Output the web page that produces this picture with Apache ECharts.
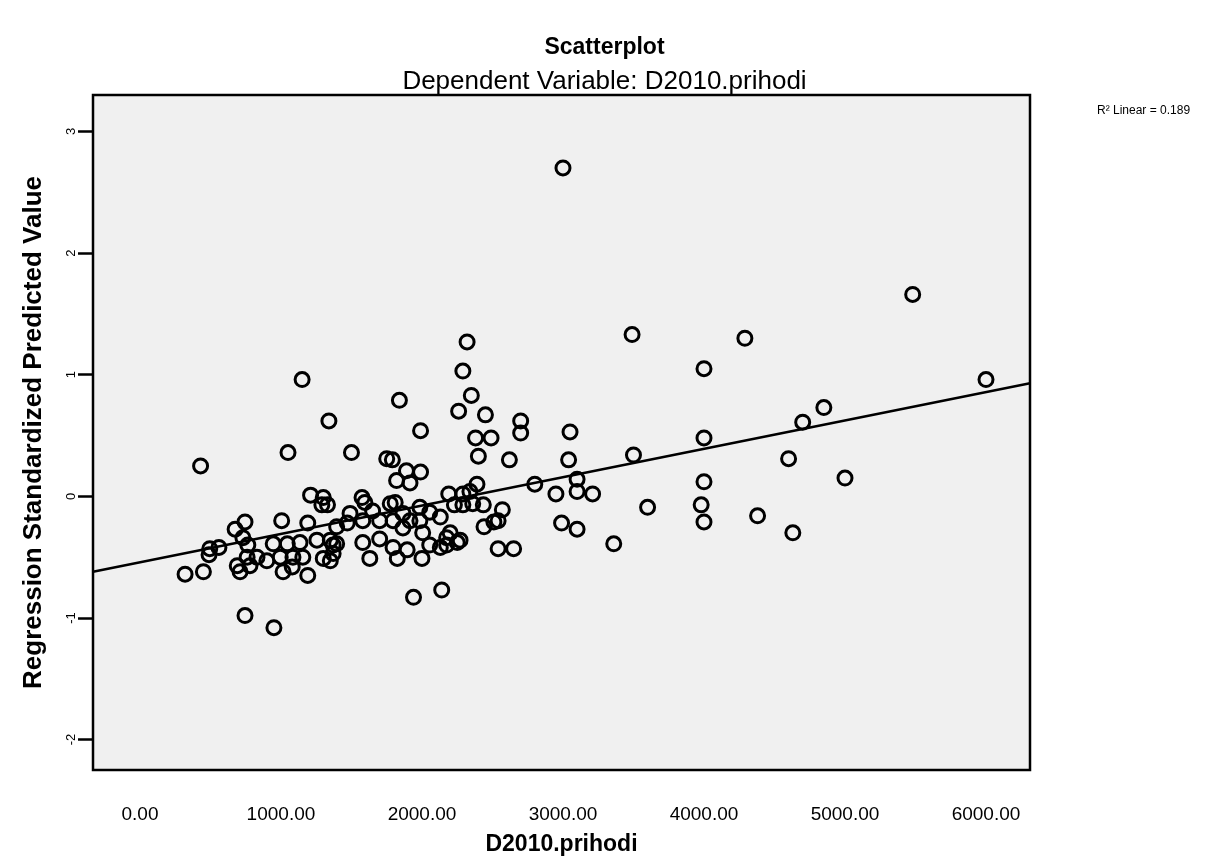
<!DOCTYPE html>
<html>
<head>
<meta charset="utf-8">
<title>Scatterplot</title>
<script src="https://cdn.jsdelivr.net/npm/echarts@6/dist/echarts.min.js"></script>
<style>
  html, body { margin: 0; padding: 0; background: #fff; }
  #main { width: 1209px; height: 857px; }
</style>
</head>
<body>
<div id="main"></div>
<script>
// D2010.prihodi (x) vs Regression Standardized Predicted Value (y)
var prihodi = [
  3000, 5480, 3490, 4290, 2320, 2290, 1150, 4000, 6000, 2350,
  1840, 1340, 2260, 2450, 1990, 2700, 2700, 3050, 2380, 2490,
  4000, 4850, 4700, 430, 1050, 1500, 2400, 3500, 1750, 1790,
  1890, 1990, 2620, 3040, 4600, 4000, 5000, 2800, 3100, 2390,
  1820, 2950, 3100, 3210, 2340, 2290, 2190, 3980, 3600, 4380,
  4000, 2990, 3100, 3360, 4630, 2540, 2650, 2440, 2510, 2570,
  2230, 2140, 1940, 745, 950, 320, 450, 490, 560,
  1210, 1300, 1330, 1290, 745, 675, 1005, 1190, 730, 495,
  765, 945, 1045, 1135, 1255, 1350, 1370, 760, 830, 900,
  995, 1085, 1155, 1300, 1350, 690, 710, 780, 1015, 1080,
  1190,
  1915, 1575, 1595, 1775, 1810, 1650, 1865, 1985, 2055, 2130,
  2360, 1490, 1395, 1470, 1580, 1700, 1795, 1915, 1985, 1865,
  2005, 2200, 2270, 1580, 1700, 1795, 1895, 1825, 2000, 2055,
  2130, 1630, 1395, 1370,
  2290, 2435, 2540, 2175, 2250, 2175
];
var predicted = [
  2.70, 1.66, 1.33, 1.30, 1.27, 1.03, 0.96, 1.05, 0.96, 0.83,
  0.79, 0.62, 0.70, 0.67, 0.54, 0.62, 0.52, 0.53, 0.48, 0.48,
  0.48, 0.73, 0.61, 0.25, 0.36, 0.36, 0.33, 0.34, 0.31, 0.30,
  0.21, 0.20, 0.30, 0.30, 0.31, 0.12, 0.15, 0.10, 0.14, 0.10,
  0.13, 0.02, 0.04, 0.02, 0.04, 0.02, 0.02, -0.07, -0.09, -0.16,
  -0.21, -0.22, -0.27, -0.39, -0.30, -0.43, -0.43, -0.25, -0.21, -0.11,
  -0.07, -0.77, -0.83, -0.98, -1.08, -0.64, -0.62, -0.48, -0.42,
  0.01, -0.01, -0.07, -0.07, -0.21, -0.27, -0.20, -0.22, -0.34, -0.43,
  -0.40, -0.39, -0.39, -0.38, -0.36, -0.36, -0.40, -0.50, -0.50, -0.53,
  -0.50, -0.50, -0.50, -0.51, -0.53, -0.57, -0.62, -0.57, -0.62, -0.58,
  -0.65,
  0.11, -0.01, -0.05, -0.06, -0.05, -0.12, -0.14, -0.09, -0.13, -0.17,
  -0.06, -0.14, -0.25, -0.22, -0.20, -0.20, -0.20, -0.20, -0.20, -0.26,
  -0.30, -0.30, -0.36, -0.38, -0.35, -0.42, -0.44, -0.51, -0.51, -0.40,
  -0.42, -0.51, -0.39, -0.47,
  -0.07, -0.07, -0.20, -0.34, -0.38, -0.40
];
// fit line endpoints (read at plot edges)
var fitX = [-333, 6312];
var fitY = [-0.62, 0.93];
var xTicks = [0, 1000, 2000, 3000, 4000, 5000, 6000];
var yTicks = [-2, -1, 0, 1, 2, 3];
var fitLabel = 'R² Linear = 0.189';

var points = [];
for (var i = 0; i < prihodi.length; i++) {
  points.push([prihodi[i], predicted[i]]);
}
var fitLine = [[fitX[0], fitY[0]], [fitX[1], fitY[1]]];

var myChart = echarts.init(document.getElementById('main'));
var font = 'Liberation Sans, Arial, sans-serif';

var option = {
  backgroundColor: '#fff',
  animation: false,
  title: [{
    text: 'Scatterplot',
    left: 'center',
    top: 31,
    textStyle: { fontFamily: font, fontSize: 23, fontWeight: 'bold', color: '#000' }
  }, {
    text: 'Dependent Variable: D2010.prihodi',
    left: 'center',
    top: 64,
    textStyle: { fontFamily: font, fontSize: 26, fontWeight: 'normal', color: '#000' }
  }],
  grid: {
    left: 93, top: 95, width: 937, height: 675,
    outerBoundsMode: 'none',
    show: true,
    backgroundColor: '#f0f0f0',
    borderColor: '#000',
    borderWidth: 2.5
  },
  xAxis: {
    type: 'value',
    min: -333,
    max: 6312,
    name: 'D2010.prihodi',
    nameLocation: 'middle',
    nameGap: 63,
    nameTextStyle: { fontFamily: font, fontSize: 23, fontWeight: 'bold', color: '#000' },
    axisLine: { show: false, onZero: false },
    axisTick: { show: false },
    splitLine: { show: false },
    axisLabel: {
      customValues: xTicks,
      margin: 35,
      fontFamily: font,
      fontSize: 19,
      color: '#000',
      formatter: function (v) { return v.toFixed(2); }
    }
  },
  yAxis: {
    type: 'value',
    min: -2.25,
    max: 3.3,
    name: 'Regression Standardized Predicted Value',
    nameLocation: 'middle',
    nameGap: 46,
    nameTextStyle: { fontFamily: font, fontSize: 26, fontWeight: 'bold', color: '#000' },
    axisLine: { show: false, onZero: false },
    axisTick: {
      show: true,
      customValues: yTicks,
      length: 15,
      lineStyle: { color: '#000', width: 2.5 }
    },
    splitLine: { show: false },
    axisLabel: {
      customValues: yTicks,
      rotate: 90,
      margin: 15,
      fontFamily: font,
      fontSize: 13,
      color: '#000'
    }
  },
  graphic: [{
    type: 'text',
    left: 1097,
    top: 105,
    style: { text: fitLabel, fontFamily: font, fontSize: 12, fill: '#000' }
  }],
  series: [{
    name: 'points',
    type: 'scatter',
    data: points,
    symbol: 'circle',
    symbolSize: 14,
    itemStyle: { color: 'rgba(0,0,0,0)', borderColor: '#000', borderWidth: 3, opacity: 1 },
    z: 3
  }, {
    name: 'Linear',
    type: 'line',
    data: fitLine,
    symbol: 'none',
    lineStyle: { color: '#000', width: 2.5 },
    z: 4
  }]
};

myChart.setOption(option);
</script>
</body>
</html>
